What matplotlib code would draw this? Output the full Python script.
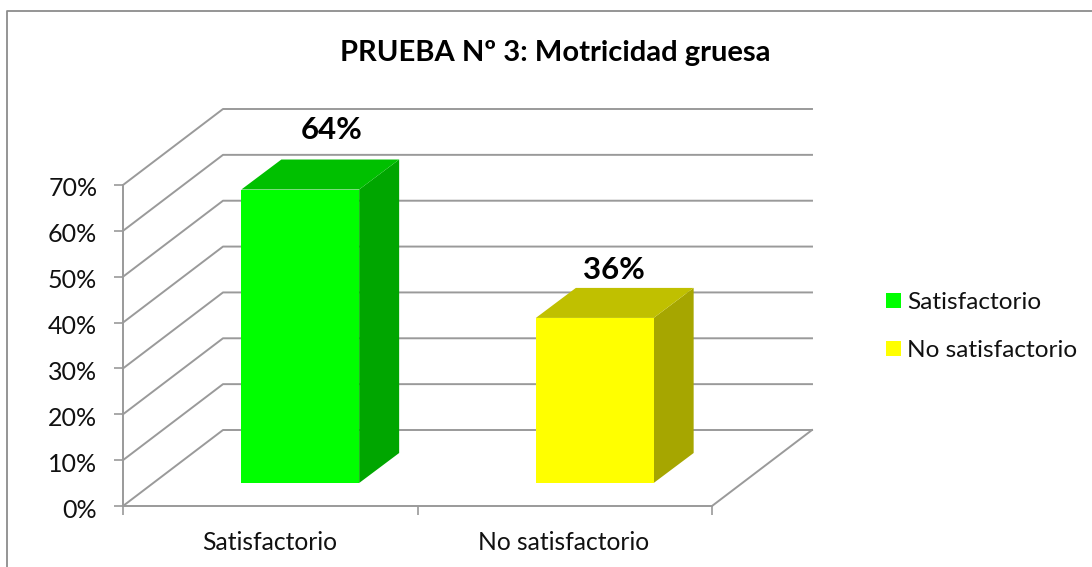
import matplotlib
matplotlib.use("Agg")
import matplotlib.pyplot as plt
from matplotlib.patches import Polygon, Patch
from matplotlib.transforms import Affine2D

categories = ["Satisfactorio", "No satisfactorio"]
values = [64, 36]
value_labels = ["64%", "36%"]
yticks = [0, 10, 20, 30, 40, 50, 60, 70]
ytick_labels = ["0%", "10%", "20%", "30%", "40%", "50%", "60%", "70%"]
title = "PRUEBA Nº 3: Motricidad gruesa"
front_colors = ["#00FF00", "#FFFF00"]
top_colors = ["#00C000", "#C0C000"]
side_colors = ["#00A600", "#A6A600"]
label_offsets = [(31, 60), (19, 48)]  # pixels from the bar's front-top centre

W, H = 1092, 567
plt.rcParams["font.family"] = ["Lato", "DejaVu Sans"]
fig = plt.figure(figsize=(W / 100, H / 100), dpi=100)
GRID = "#9A9A9A"
TXT = "#111111"
LW = 1.4

# chart frame (open at right and bottom, as in the reference)
fig.add_artist(plt.Line2D([6.5 / W, 6.5 / W, 1], [0, 1 - 10.5 / H, 1 - 10.5 / H],
                          transform=fig.transFigure, color="#8C8C8C", lw=1.3))

# front plane of the 3D box
L, R, T, B = 123, 712, 185, 506
ax = fig.add_axes([L / W, 1 - B / H, (R - L) / W, (B - T) / H])
ax.set_xlim(0, 2)
ax.set_ylim(0, 70)
ax.patch.set_alpha(0)
for s in ["top", "right"]:
    ax.spines[s].set_visible(False)
for s in ["left", "bottom"]:
    ax.spines[s].set_color(GRID)
    ax.spines[s].set_linewidth(LW)
ax.set_yticks(yticks, ytick_labels, fontsize=18, color=TXT)
ax.set_xticks([0, 1, 2])
ax.set_xticklabels([])
ax.tick_params(axis="both", length=6.5, width=1.2, color=GRID)
ax.tick_params(axis="y", pad=12)
for lab in ax.get_yticklabels():
    lab.set_transform(lab.get_transform() + Affine2D().translate(0, -2))
for i, c in enumerate(categories):
    ax.annotate(c, (i + 0.5, 0), xytext=(-1, -36), textcoords="offset pixels",
                ha="center", va="center", fontsize=17.7, color=TXT, annotation_clip=False)

DX, DY = 100, 76  # pixel depth of the floor
inv = ax.transData.inverted()


def shifted(x, y, dx, dy):
    px, py = ax.transData.transform((x, y))
    return inv.transform((px + dx, py + dy))


# back wall grid and side wall diagonals
for y in yticks:
    a, b = shifted(0, y, DX, DY), shifted(2, y, DX, DY)
    c = shifted(0, y, 0, 0)
    ax.plot([c[0], a[0], b[0]], [c[1], a[1], b[1]], color=GRID, lw=LW, clip_on=False, zorder=1)
e = shifted(2, 0, DX, DY)
ax.plot([2, e[0]], [0, e[1]], color=GRID, lw=LW, clip_on=False, zorder=1)

# bars
BX, BY = 30, 23   # front face inset
SX, SY = 40, 30   # bar depth
bar_w = 0.4
for i, v in enumerate(values):
    x0, x1 = i + 0.5 - bar_w / 2, i + 0.5 + bar_w / 2
    f = [shifted(x, y, BX, BY) for x, y in [(x0, 0), (x1, 0), (x1, v), (x0, v)]]
    t = [shifted(x, v, BX, BY) for x in (x0, x1)] + [shifted(x, v, BX + SX, BY + SY) for x in (x1, x0)]
    s = [shifted(x1, 0, BX, BY), shifted(x1, 0, BX + SX, BY + SY),
         shifted(x1, v, BX + SX, BY + SY), shifted(x1, v, BX, BY)]
    ax.add_patch(Polygon(s, closed=True, fc=side_colors[i], ec="none", clip_on=False, zorder=3))
    ax.add_patch(Polygon(t, closed=True, fc=top_colors[i], ec="none", clip_on=False, zorder=3))
    ax.add_patch(Polygon(f, closed=True, fc=front_colors[i], ec="none", clip_on=False, zorder=4))
    ox, oy = label_offsets[i]
    ax.annotate(value_labels[i], (i + 0.5, v), xytext=(BX + ox, BY + oy),
                textcoords="offset pixels", ha="center", va="center",
                fontsize=22.5, fontweight="bold", color="#000000", annotation_clip=False, zorder=5)

fig.text(555 / W, 1 - 53 / H, title, ha="center", va="center",
         fontsize=21, fontweight="bold", color="#000000")

handles = [Patch(fc=c, ec="none") for c in front_colors]
fig.legend(handles, categories, loc="upper left", bbox_to_anchor=(886 / W, 1 - 292 / H),
           frameon=False, fontsize=17.6, labelcolor=TXT, handlelength=0.61, handleheight=0.61,
           handletextpad=0.25, labelspacing=1.11, borderpad=0, borderaxespad=0)

fig.savefig("out.png", dpi=100)
